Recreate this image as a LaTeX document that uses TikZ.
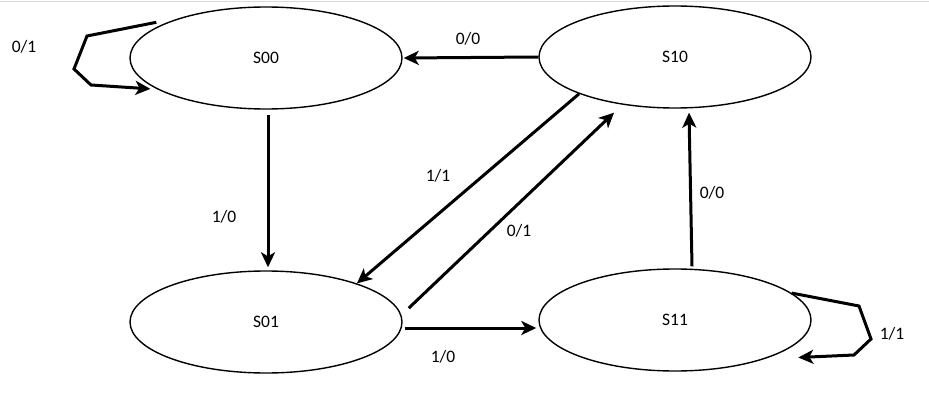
\documentclass[tikz,border=0pt]{standalone}
\usepackage{fontspec}
\setmainfont{Carlito}
\usepackage{tikz}
\usetikzlibrary{arrows.meta,shapes.geometric}

\begin{document}
\begin{tikzpicture}[x=1pt,y=-1pt,
    state/.style={ellipse,draw,line width=1.4pt,minimum width=272pt,minimum height=102pt,font=\fontsize{17.5}{20}\selectfont},
    trans/.style={line width=3pt,-{Stealth[length=15pt,width=14pt,inset=4pt]}},
    lbl/.style={font=\fontsize{17.5}{20}\selectfont}]
    \useasboundingbox (0,0) rectangle (929,409);
    \draw[black!15] (0,1.5) -- (929,1.5);
    % --- STATES ---
	\node[state] (s00) at (266,58) {S00};
	\node[state] (s10) at (675,57) {S10};
	\node[state] (s01) at (266,322) {S01};
	\node[state] (s11) at (675,320) {S11};

    % --- TRANSITIONS ---
	\draw[trans] ([shift={(-6pt,2pt)}]s00.162) -- (87,36) -- (74,69) -- (91,85) -- ([shift={(-4pt,-1pt)}]s00.195);
	\draw[trans] ([shift={(2pt,-5pt)}]s00.south) -- ([shift={(2pt,3pt)}]s01.north);
	\draw[trans] (s10.west) -- ([xshift=1pt]s00.east);
	\draw[trans] (s10.201) -- (s01.23);
	\draw[trans] ([xshift=11pt]s01.6) -- ([shift={(-8pt,-8pt)}]s10.222);
	\draw[trans] ([shift={(17pt,2pt)}]s11.north) -- ([shift={(14pt,-4pt)}]s10.south);
	\draw[trans] ([shift={(2pt,-6pt)}]s01.east) -- ([shift={(-2pt,-8pt)}]s11.west);
	\draw[trans] (s11.13) -- (859,306) -- (871,339) -- (854,355) -- ([shift={(17pt,-5pt)}]s11.343);

	\node[lbl] (l0001) at (24,47) {0/1};
	\node[lbl] (l0001b) at (224,217) {1/0};
	\node[lbl] (l1000) at (468,39) {0/0};
	\node[lbl] (l1001) at (438,176) {1/1};
	\node[lbl] (l0110) at (519,231) {0/1};
	\node[lbl] (l1110) at (712,193) {0/0};
	\node[lbl] (l0111) at (443,357) {1/0};
	\node[lbl] (l1111) at (892,334) {1/1};
\end{tikzpicture}
\end{document}
